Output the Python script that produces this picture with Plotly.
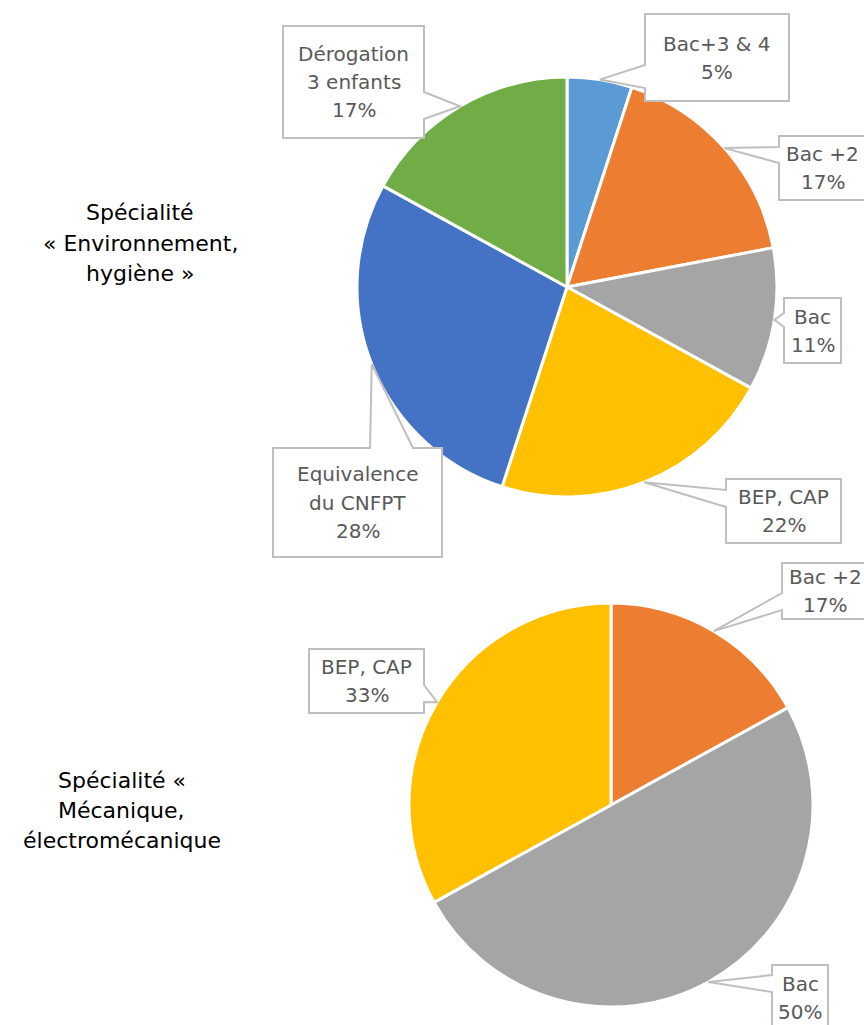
import math
import plotly.graph_objects as go

W, H = 864, 1025

# ---------------- data ----------------
top_names = ["Bac+3 & 4", "Bac +2", "Bac", "BEP, CAP", "Equivalence du CNFPT", "Dérogation 3 enfants"]
top_name_lines = [["Bac+3 & 4"], ["Bac +2"], ["Bac"], ["BEP, CAP"], ["Equivalence", "du CNFPT"], ["Dérogation", "3 enfants"]]
top_values = [5, 17, 11, 22, 28, 17]
top_colors = ["#5B9BD5", "#ED7D31", "#A5A5A5", "#FFC000", "#4472C4", "#70AD47"]

bot_names = ["Bac +2", "Bac", "BEP, CAP"]
bot_name_lines = [["Bac +2"], ["Bac"], ["BEP, CAP"]]
bot_values = [17, 50, 33]
bot_colors = ["#ED7D31", "#A5A5A5", "#FFC000"]

top_title_lines = ["Spécialité", "« Environnement,", "hygiène »"]
bot_title_lines = ["Spécialité «", "Mécanique,", "électromécanique"]

# ---------------- layout geometry (pixels) ----------------
PIE_TOP = dict(cx=567, cy=287, r=210)
PIE_BOT = dict(cx=611, cy=805, r=202)

# callout boxes: x0, y0, x1, y1, side of wedge, wedge base start, wedge base end
top_boxes = [
    (645, 14, 789, 101, "left", 65, 88),
    (779, 136, 866, 200, "left", 147, 163),
    (784, 298, 841, 363, "left", 313, 327),
    (726, 479, 841, 543, "left", 490, 507),
    (273, 448, 442, 557, "top", 370, 413),
    (283, 26, 424, 138, "right", 92, 119),
]
bot_boxes = [
    (782, 563, 868, 619, "left", 593, 610),
    (772, 965, 828, 1030, "left", 975, 992),
    (309, 649, 424, 713, "right", 685, 702),
]

BOX_LINE = "#BFBFBF"
LABEL_COLOR = "#595959"
FONT = "DejaVu Sans"
LABEL_SIZE = 20
LINE_GAP = 28


def px(x, y):
    return x / W, 1 - y / H


def domain(p):
    return dict(x=[(p["cx"] - p["r"]) / W, (p["cx"] + p["r"]) / W],
                y=[1 - (p["cy"] + p["r"]) / H, 1 - (p["cy"] - p["r"]) / H])


def tips(p, values):
    tot = sum(values)
    out = []
    acc = 0
    for v in values:
        mid = (acc + v / 2) / tot * 2 * math.pi
        acc += v
        out.append((p["cx"] + p["r"] * math.sin(mid), p["cy"] - p["r"] * math.cos(mid)))
    return out


def callout_path(box, tip):
    x0, y0, x1, y1, side, b0, b1 = box
    tx, ty = tip
    pts = [(x0, y0)]
    if side == "top":
        pts += [(b0, y0), (tx, ty), (b1, y0)]
    pts.append((x1, y0))
    if side == "right":
        pts += [(x1, b0), (tx, ty), (x1, b1)]
    pts.append((x1, y1))
    if side == "bottom":
        pts += [(b1, y1), (tx, ty), (b0, y1)]
    pts.append((x0, y1))
    if side == "left":
        pts += [(x0, b1), (tx, ty), (x0, b0)]
    s = ""
    for i, (x, y) in enumerate(pts):
        X, Y = px(x, y)
        s += ("M" if i == 0 else " L") + f"{X:.5f},{Y:.5f}"
    return s + " Z"


fig = go.Figure()
for p, names, vals, cols in [(PIE_TOP, top_names, top_values, top_colors),
                             (PIE_BOT, bot_names, bot_values, bot_colors)]:
    fig.add_trace(go.Pie(
        labels=names, values=vals, sort=False, direction="clockwise", rotation=0,
        marker=dict(colors=cols, line=dict(color="white", width=3)),
        textinfo="none", domain=domain(p), showlegend=False,
    ))

shapes = []
annotations = []
for p, vals, name_lines, boxes in [(PIE_TOP, top_values, top_name_lines, top_boxes),
                                   (PIE_BOT, bot_values, bot_name_lines, bot_boxes)]:
    tot = sum(vals)
    for v, nl, box, tip in zip(vals, name_lines, boxes, tips(p, vals)):
        shapes.append(dict(type="path", xref="paper", yref="paper",
                           path=callout_path(box, tip), fillcolor="white",
                           line=dict(color=BOX_LINE, width=2), layer="above"))
        lines = nl + [f"{v / tot * 100:.0f}%"]
        cx = (box[0] + box[2]) / 2
        cy = (box[1] + box[3]) / 2
        n = len(lines)
        for i, t in enumerate(lines):
            ly = cy + (i - (n - 1) / 2) * LINE_GAP
            X, Y = px(cx, ly)
            annotations.append(dict(text=t, x=X, y=Y, xref="paper", yref="paper",
                                    xanchor="center", yanchor="middle", showarrow=False,
                                    font=dict(family=FONT, size=LABEL_SIZE, color=LABEL_COLOR)))

for lines, cx, cy in [(top_title_lines, 140, 243), (bot_title_lines, 122, 810)]:
    n = len(lines)
    for i, t in enumerate(lines):
        ly = cy + (i - (n - 1) / 2) * 30
        X, Y = px(cx, ly)
        annotations.append(dict(text=t, x=X, y=Y, xref="paper", yref="paper",
                                xanchor="center", yanchor="middle", showarrow=False,
                                font=dict(family=FONT, size=22, color="black")))

fig.update_layout(width=W, height=H, margin=dict(l=0, r=0, t=0, b=0),
                  paper_bgcolor="white", plot_bgcolor="white",
                  shapes=shapes, annotations=annotations)

fig.write_html("out.html", config={"displayModeBar": False},
               post_script="document.body.style.margin='0';document.body.style.overflow='hidden';")
